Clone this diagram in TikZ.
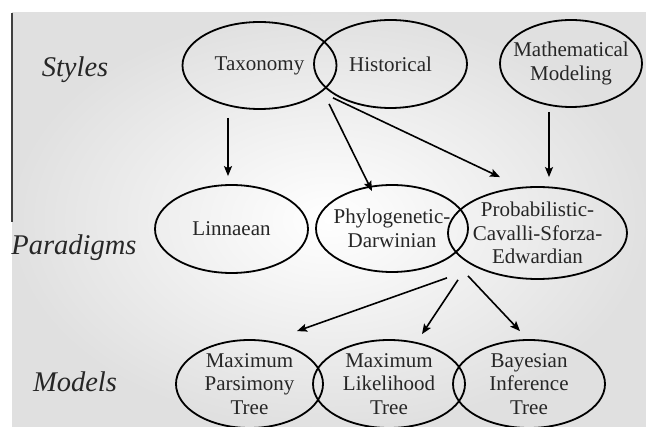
\documentclass[tikz,border=0pt]{standalone}
\usepackage{fontspec}
\setmainfont{Liberation Serif}
\usetikzlibrary{shapes.geometric,arrows.meta,calc}

\begin{document}
\begin{tikzpicture}[x=1pt,y=-1pt]
\tikzstyle{oval}=[draw=black, line width=1.8pt, ellipse, inner xsep=-14pt, inner ysep=-10pt, align=center, text=black!85, font=\fontsize{21}{23.5}\selectfont]
\tikzstyle{level}=[text=black!85, font=\fontsize{28.5}{30}\selectfont\itshape]
\tikzstyle{arr}=[line width=1.6pt, -{Stealth[length=10pt,width=8pt,inset=2pt]}]
\useasboundingbox (0,0) rectangle (646,427);
\shade [inner color=white, outer color=black!12] (12,13) rectangle (646,427);
\draw [black!75, line width=1.5pt] (12,13) -- (12,222);
% row labels
\node[level] (styles) at (75,70) {Styles};
\node[level] (paradigms) at (74,248) {Paradigms};
\node[level] (models) at (75,382) {Models};
% styles
\node[oval, minimum width=154pt, minimum height=87pt] (tax) at (259.5,65.5) {Taxonomy};
\node[oval, minimum width=153pt, minimum height=88pt] (hist) at (390.5,64) {Historical};
\node[oval, minimum width=142pt, minimum height=87pt] (math) at (571,63.5) {Mathematical\\Modeling};
% paradigms
\node[oval, minimum width=153pt, minimum height=88pt] (lin) at (231.5,229) {Linnaean};
\node[oval, minimum width=152pt, minimum height=87pt] (phy) at (392,228.5) {Phylogenetic-\\Darwinian};
\node[oval, minimum width=179pt, minimum height=92pt] (prob) at (537.5,233) {Probabilistic-\\Cavalli-Sforza-\\Edwardian};
% models
\node[oval, minimum width=147pt, minimum height=88pt] (mp) at (249.5,384) {Maximum\\Parsimony\\Tree};
\node[oval, minimum width=152pt, minimum height=88pt] (ml) at (389,384) {Maximum\\Likelihood\\Tree};
\node[oval, minimum width=152pt, minimum height=88pt] (bi) at (529,384) {Bayesian\\Inference\\Tree};
% arrows
\draw[arr] ($(tax.south)+(-31.5,8)$) -- ($(lin.north)+(-3.5,-8)$);
\draw[arr] ($(tax.south)+(69.5,-6)$) -- ($(phy.north)+(-20,7)$);
\draw[arr] ($(tax.south)+(73.5,-12)$) -- ($(prob.north)+(-37.5,-9)$);
\draw[arr] ($(math.south)+(-22,4)$) -- ($(prob.north)+(11.5,-9)$);
\draw[arr] ($(prob.south)+(-90.5,-2)$) -- ($(mp.north)+(47.5,-8)$);
\draw[arr] ($(prob.south)+(-79.5,0)$) -- ($(ml.north)+(33,-5)$);
\draw[arr] ($(prob.south)+(-69.5,-4)$) -- ($(bi.north)+(-9,-8)$);
\end{tikzpicture}
\end{document}
